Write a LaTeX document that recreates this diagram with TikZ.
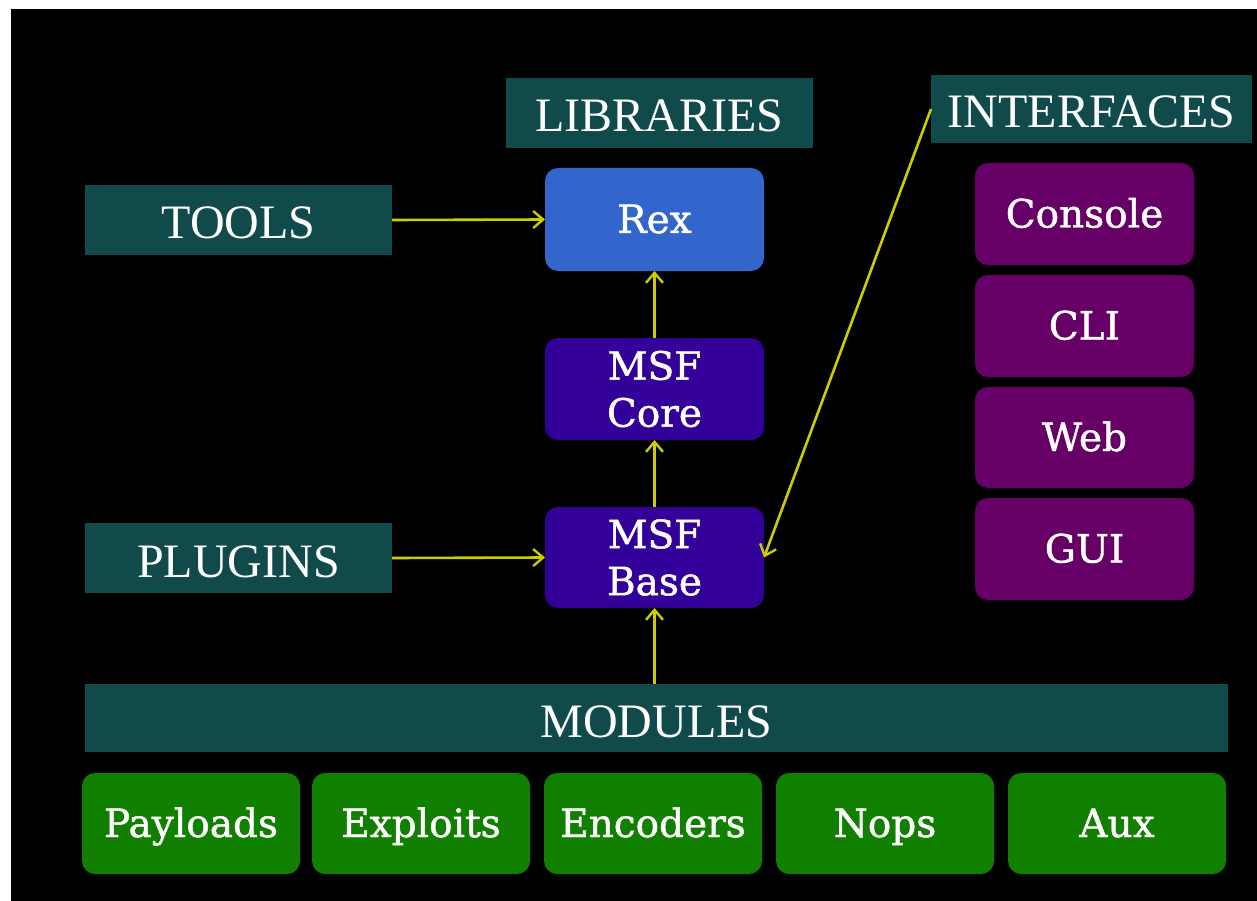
\documentclass[tikz,border=0pt]{standalone}
\usepackage{fontspec}
\usetikzlibrary{arrows.meta}
\newfontfamily\hdrfont{Liberation Serif}
\newfontfamily\boxfont[FakeBold=1.2]{DejaVu Serif}
\definecolor{tealbg}{RGB}{16,74,74}
\definecolor{rexblue}{RGB}{51,102,204}
\definecolor{msfpurple}{RGB}{51,0,153}
\definecolor{ifpurple}{RGB}{102,0,102}
\definecolor{modgreen}{RGB}{17,127,0}
\definecolor{arrowyellow}{RGB}{204,204,0}
\tikzset{
  header/.style={fill=tealbg, inner sep=0pt, outer sep=0pt, text=white,
    text height=40pt, text depth=2pt,
    font=\hdrfont\fontsize{48}{56}\selectfont},
  rbox/.style={rounded corners=13pt, inner sep=0pt, outer sep=0pt, text=white,
    minimum width=219pt, minimum height=102pt,
    font=\boxfont\fontsize{39}{47}\selectfont},
  onel/.style={text height=29pt, text depth=2pt},
  twol/.style={align=center},
  rexbox/.style={rbox, onel, fill=rexblue},
  msfbox/.style={rbox, twol, fill=msfpurple},
  ifbox/.style={rbox, onel, fill=ifpurple},
  modbox/.style={rbox, onel, fill=modgreen, minimum width=218pt, minimum height=101pt},
  conn/.style={draw=arrowyellow, line width=2.6pt,
    -{Straight Barb[length=10pt,width=17pt,line width=2.4pt]}},
}
\begin{document}
\begin{tikzpicture}[x=1pt,y=-1pt]
\fill[white] (0,0) rectangle (1257,901);
\useasboundingbox (0,0) rectangle (1257,901);
\fill[black] (11,9) rectangle (1257,901);

% headers
\node[header, minimum width=307pt, minimum height=70pt] (lib) at (659.5,113) {LIBRARIES};
\node[header, minimum width=321pt, minimum height=68pt] (intf) at (1091.5,109) {INTERFACES};
\node[header, minimum width=307pt, minimum height=70pt] (tools) at (238.5,220) {TOOLS};
\node[header, minimum width=307pt, minimum height=70pt] (plug) at (238.5,558) {PLUGINS};
\node[header, minimum width=1143pt, minimum height=68pt] (mods) at (656.5,718) {MODULES};

% libraries column
\node[rexbox, minimum height=103pt] (rex) at (654.5,219.5) {Rex};
\node[msfbox] (core) at (654.5,389) {MSF\\Core};
\node[msfbox, minimum height=101pt] (base) at (654.5,557.5) {MSF\\Base};

% interfaces column
\node[ifbox] (console) at (1084.5,214) {Console};
\node[ifbox] (cli) at (1084.5,326) {CLI};
\node[ifbox, minimum height=101pt] (web) at (1084.5,437.5) {Web};
\node[ifbox] (gui) at (1084.5,549) {GUI};

% modules
\node[modbox] (pay) at (191,823.5) {Payloads};
\node[modbox] (exp) at (421,823.5) {Exploits};
\node[modbox] (enc) at (653,823.5) {Encoders};
\node[modbox] (nops) at (885,823.5) {Nops};
\node[modbox] (aux) at (1117,823.5) {Aux};

% connectors
\draw[conn] (tools.east) -- (rex.west);
\draw[conn] (plug.east) -- (base.west);
\draw[conn] (core.north) -- (rex.south);
\draw[conn] (base.north) -- (core.south);
\draw[conn] (mods.north -| base.south) -- (base.south);
\draw[conn] (intf.west) -- (base.east);
\end{tikzpicture}
\end{document}
